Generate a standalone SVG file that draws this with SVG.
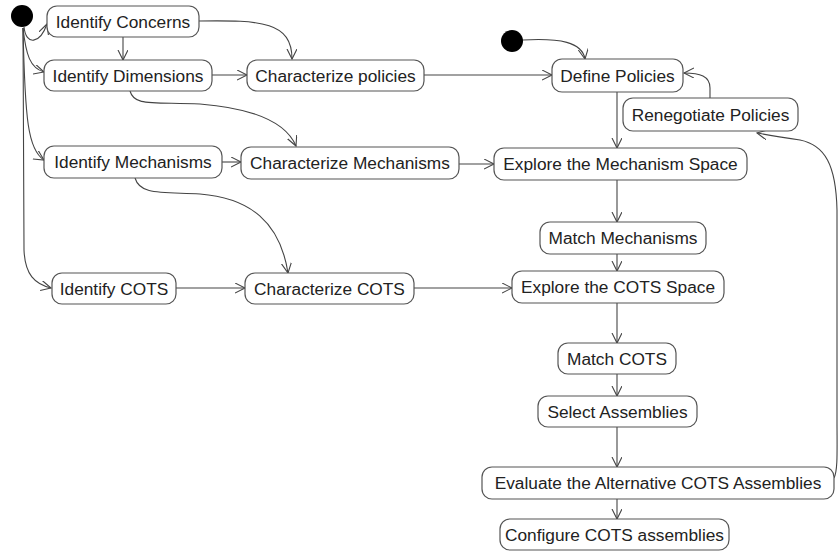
<svg xmlns="http://www.w3.org/2000/svg" width="838" height="553" viewBox="0 0 838 553">
<style>
.n rect{fill:#fff;stroke:#555;stroke-width:1.2}
.n text{font-family:"Liberation Sans",Arial,sans-serif;font-size:17.3px;fill:#222;text-anchor:middle}
.c path{fill:none;stroke:#444;stroke-width:1.1;marker-end:url(#a)}
.s{fill:#000}
</style>
<defs>
<marker id="a" markerUnits="userSpaceOnUse" markerWidth="12" markerHeight="12" refX="10" refY="5" orient="auto">
<path d="M0,0 L10,5 L0,10" fill="none" stroke="#444" stroke-width="1.1"/>
</marker>
</defs>
<g id="connectors" class="c">
<path d="M24,27 C26,46 40,44 47,24"/>
<path d="M23,28 C26,55 30,68 44,72"/>
<path d="M23,28 C25,120 28,150 44,160"/>
<path d="M23,28 L24,250 C25,275 35,284 51,288"/>
<path d="M123,37 L123,60"/>
<path d="M199,21 C262,20 292,22 292,59"/>
<path d="M212,75 L247,75"/>
<path d="M130,91 C134,106 150,102 200,104 C250,108 285,120 296,146"/>
<path d="M222,162 L241,162"/>
<path d="M135,178 C140,195 160,192 200,194 C250,198 280,222 288,273"/>
<path d="M176,288 L245,288"/>
<path d="M424,75 L552,75"/>
<path d="M459,164 L494,164"/>
<path d="M414,288 L512,288"/>
<path d="M523,40 C560,38 582,42 585,59"/>
<path d="M617,92 L617,148"/>
<path d="M710,98 L710,88 C710,76 700,73 684,73"/>
<path d="M617,180 L617,222"/>
<path d="M617,254 L617,271"/>
<path d="M617,303 L617,343"/>
<path d="M617,374 L617,396"/>
<path d="M617,427 L617,467"/>
<path d="M617,499 L617,519"/>
<path d="M834,478 C838,470 837,450 837,420 L837,210 C836,165 825,145 800,140 C780,137 768,135 757,133"/>
</g>
<circle id="start1" class="s" cx="22" cy="16" r="11"/>
<circle id="start2" class="s" cx="512" cy="41" r="11"/>
<g id="n1" class="n"><rect x="47" y="6" width="152" height="31" rx="10"/><text x="123" y="27.5">Identify Concerns</text></g>
<g id="n2" class="n"><rect x="44" y="60" width="168" height="31" rx="10"/><text x="128" y="81.5">Identify Dimensions</text></g>
<g id="n3" class="n"><rect x="44" y="146" width="178" height="32" rx="10"/><text x="133" y="168">Identify Mechanisms</text></g>
<g id="n4" class="n"><rect x="52" y="273" width="124" height="31" rx="10"/><text x="114" y="294.5">Identify COTS</text></g>
<g id="n5" class="n"><rect x="247" y="60" width="177" height="31" rx="10"/><text x="335.5" y="81.5">Characterize policies</text></g>
<g id="n6" class="n"><rect x="241" y="147" width="218" height="32" rx="10"/><text x="350" y="169">Characterize Mechanisms</text></g>
<g id="n7" class="n"><rect x="245" y="273" width="169" height="31" rx="10"/><text x="329.5" y="294.5">Characterize COTS</text></g>
<g id="n8" class="n"><rect x="552" y="59" width="131" height="33" rx="10"/><text x="617.5" y="81.5">Define Policies</text></g>
<g id="n9" class="n"><rect x="623" y="98" width="175" height="33" rx="10"/><text x="710.5" y="120.5">Renegotiate Policies</text></g>
<g id="n10" class="n"><rect x="494" y="148" width="253" height="32" rx="10"/><text x="620.5" y="170">Explore the Mechanism Space</text></g>
<g id="n11" class="n"><rect x="540" y="222" width="166" height="32" rx="10"/><text x="623" y="244">Match Mechanisms</text></g>
<g id="n12" class="n"><rect x="512" y="271" width="212" height="32" rx="10"/><text x="618" y="293">Explore the COTS Space</text></g>
<g id="n13" class="n"><rect x="558" y="343" width="118" height="31" rx="10"/><text x="617" y="364.5">Match COTS</text></g>
<g id="n14" class="n"><rect x="538" y="396" width="159" height="31" rx="10"/><text x="617.5" y="417.5">Select Assemblies</text></g>
<g id="n15" class="n"><rect x="482" y="467" width="352" height="32" rx="10"/><text x="658" y="489">Evaluate the Alternative COTS Assemblies</text></g>
<g id="n16" class="n"><rect x="500" y="519" width="229" height="31" rx="10"/><text x="614.5" y="540.5">Configure COTS assemblies</text></g>
</svg>
